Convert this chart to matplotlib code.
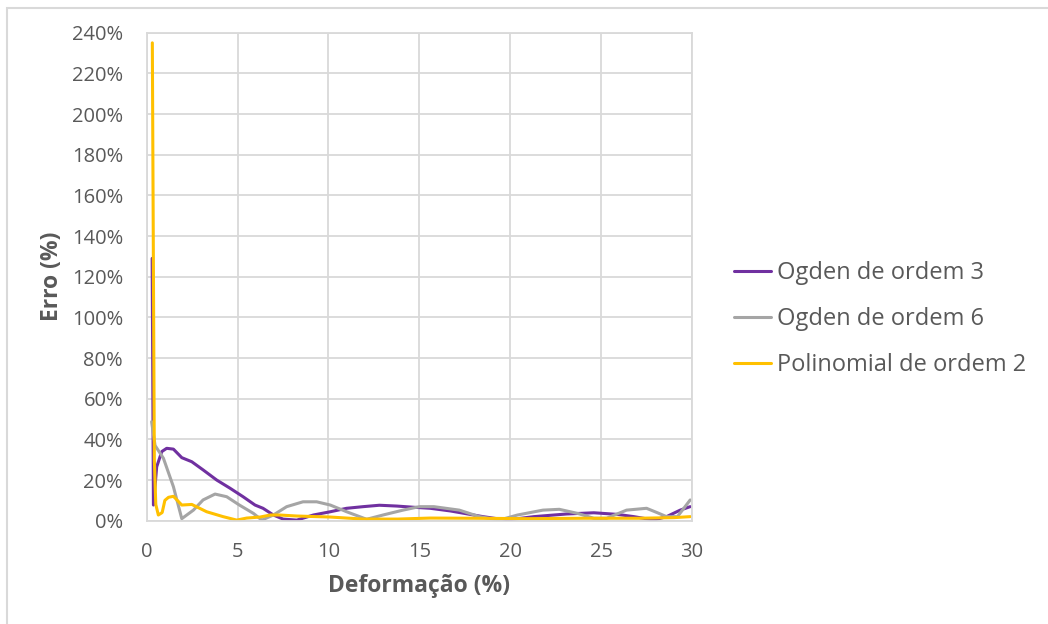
import matplotlib
matplotlib.use("Agg")
import matplotlib.pyplot as plt
from matplotlib.patches import Rectangle
from matplotlib.ticker import FuncFormatter

plt.rcParams['font.family'] = ['Open Sans', 'DejaVu Sans']

# Error of each constitutive model against strain (%)
ogden3_x = [0.30, 0.37, 0.55, 0.83, 1.10, 1.47, 1.93, 2.48, 3.10, 3.85, 4.58, 5.30,
            5.96, 6.40, 6.97, 7.50, 8.26, 9.17, 10.1, 11.0, 11.9, 12.8, 13.76, 14.7,
            15.6, 16.7, 18.5, 19.8, 21.3, 23.1, 24.6, 25.9, 26.8, 27.9, 28.6, 29.35, 29.9]
ogden3_y = [129, 7.7, 26.5, 34, 35.6, 35.2, 31, 29, 25, 20, 16, 11.8,
            7.7, 6.1, 2.8, 0.8, 0.3, 2.8, 4.4, 6.1, 6.9, 7.6, 7.2, 6.6,
            6.1, 4.8, 2.0, 0.3, 2.0, 3.3, 3.9, 3.1, 2.0, 0.3, 2.0, 5.2, 6.9]

ogden6_x = [0.27, 0.46, 0.92, 1.47, 1.93, 2.57, 3.10, 3.76, 4.40, 5.10, 5.87, 6.33,
            6.97, 7.70, 8.60, 9.35, 10.1, 11.0, 12.1, 13.0, 14.1, 15.0, 15.8, 17.2,
            18.3, 19.4, 20.4, 21.8, 22.7, 23.7, 24.6, 25.3, 26.4, 27.5, 28.1, 28.6,
            29.2, 29.9]
ogden6_y = [48.7, 37, 30.7, 16.7, 1.0, 5.2, 10.2, 13.1, 11.8, 7.7, 3.6, 0.3,
            2.8, 6.9, 9.3, 9.3, 7.7, 4.4, 0.7, 2.8, 5.2, 6.9, 6.9, 5.2,
            2.0, 0.3, 2.8, 5.2, 5.6, 3.6, 1.2, 1.2, 5.2, 6.1, 3.9, 2.0,
            2.0, 10.2]

poly2_x = [0.31, 0.42, 0.50, 0.64, 0.85, 1.00, 1.20, 1.47, 1.93, 2.48, 3.30, 4.20,
           4.95, 5.50, 6.24, 6.80, 7.30, 8.26, 10.1, 11.9, 13.8, 15.6, 18.0, 21.0,
           24.0, 27.0, 29.0, 29.9]
poly2_y = [235, 30, 8, 2.8, 4, 10, 11.5, 12, 7.7, 8, 4.4, 2.0,
           0.3, 1.3, 1.8, 2.8, 2.8, 2.3, 1.8, 0.8, 0.8, 1.3, 1.2, 1.0,
           1.2, 1.2, 1.5, 2.0]

series_labels = ["Ogden de ordem 3", "Ogden de ordem 6", "Polinomial de ordem 2"]
series_colors = ["#7030A0", "#A5A5A5", "#FFC000"]

x_ticks = [0, 5, 10, 15, 20, 25, 30]
y_ticks = list(range(0, 241, 20))

W, H = 1048, 624
fig = plt.figure(figsize=(W / 100, H / 100), dpi=100)
fig.patch.set_facecolor("white")

# chart frame
fig.patches.append(Rectangle((7 / W, -0.05), 1.2, 1 - 8 / H + 0.05,
                             transform=fig.transFigure, fill=False,
                             edgecolor="#d9d9d9", linewidth=1.5))

left, right, top, bottom = 146.7, 692.0, 32.7, 520.7
ax = fig.add_axes([left / W, 1 - bottom / H, (right - left) / W, (bottom - top) / H])

grid_c = "#d9d9d9"
text_c = "#595959"

for xs, ys, lab, col in zip([ogden3_x, ogden6_x, poly2_x],
                            [ogden3_y, ogden6_y, poly2_y],
                            series_labels, series_colors):
    ax.plot(xs, ys, color=col, linewidth=2.2, label=lab,
            solid_joinstyle="round", solid_capstyle="round")

ax.set_xlim(0, 30)
ax.set_ylim(0, 240)
ax.set_xticks(x_ticks)
ax.set_yticks(y_ticks)
ax.yaxis.set_major_formatter(FuncFormatter(lambda v, p: f"{int(v)}%"))
ax.grid(True, color=grid_c, linewidth=1.3)
ax.set_axisbelow(True)
for s in ax.spines.values():
    s.set_color(grid_c)
    s.set_linewidth(1.3)
ax.tick_params(length=0, labelsize=14.5, labelcolor=text_c)
ax.tick_params(axis="x", pad=15)
ax.tick_params(axis="y", pad=17)

ax.set_xlabel("Deformação (%)", fontsize=16.5, fontweight="bold", color=text_c, labelpad=9)
ax.set_ylabel("Erro (%)", fontsize=16.5, fontweight="bold", color=text_c, labelpad=6)

leg = fig.legend(loc="center left", bbox_to_anchor=(713 / W, 1 - 319 / H),
                 frameon=False, fontsize=17, handlelength=1.55, handletextpad=0.25,
                 labelspacing=0.93, labelcolor=text_c)
for h in leg.get_lines():
    h.set_linewidth(2.2)

fig.savefig("out.png", dpi=100, facecolor="white")
